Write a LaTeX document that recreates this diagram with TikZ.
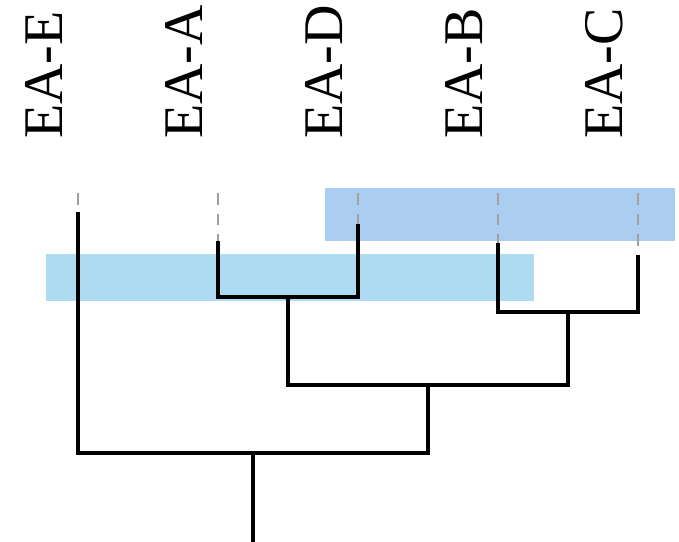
\documentclass[tikz,border=0pt]{standalone}
\usepackage{fontspec}
\setmainfont{Liberation Serif}
\definecolor{cladeA}{RGB}{170,205,240}
\definecolor{cladeB}{RGB}{173,219,241}
\definecolor{guide}{RGB}{160,160,160}
\begin{document}
\begin{tikzpicture}[x=1pt,y=-1pt,
  branch/.style={line width=3.6pt,black,line cap=rect},
  guideline/.style={line width=1.8pt,guide,dash pattern=on 11.5pt off 9pt},
  taxon/.style={rotate=90,anchor=base west,inner sep=0pt,font=\fontsize{56}{60}\selectfont}]
\useasboundingbox (0,0) rectangle (679,541);

% highlighted clades
\fill[cladeA] (325,188) rectangle (675,241);
\fill[cladeB] (46,254) rectangle (534,301);

% tips of the guide lines and leaf tops
\coordinate (tE) at (78,193);  \coordinate (lE) at (78,214);
\coordinate (tA) at (218,193); \coordinate (lA) at (218,243);
\coordinate (tD) at (358,193); \coordinate (lD) at (358,226);
\coordinate (tB) at (498,193); \coordinate (lB) at (498,245);
\coordinate (tC) at (638,193); \coordinate (lC) at (638,257);

% internal nodes
\coordinate (nAD) at (288,297);
\coordinate (nBC) at (568,312);
\coordinate (nADBC) at (428,385);
\coordinate (root) at (253,453);
\coordinate (base) at (253,541);

% taxon labels
\node[taxon] (labE) at (62,139) {EA-E};
\node[taxon] (labA) at (202,139) {EA-A};
\node[taxon] (labD) at (342,139) {EA-D};
\node[taxon] (labB) at (482,139) {EA-B};
\node[taxon] (labC) at (622,139) {EA-C};

% dashed guides
\foreach \t in {E,A,D,B,C}
  \draw[guideline] (t\t) -- (l\t);

% tree
\draw[branch] (lA) |- (nAD) -| (lD);
\draw[branch] (lB) |- (nBC) -| (lC);
\draw[branch] (nAD) |- (nADBC) -| (nBC);
\draw[branch] (lE) |- (root) -| (nADBC);
\draw[branch] (root) -- (base);
\end{tikzpicture}
\end{document}
